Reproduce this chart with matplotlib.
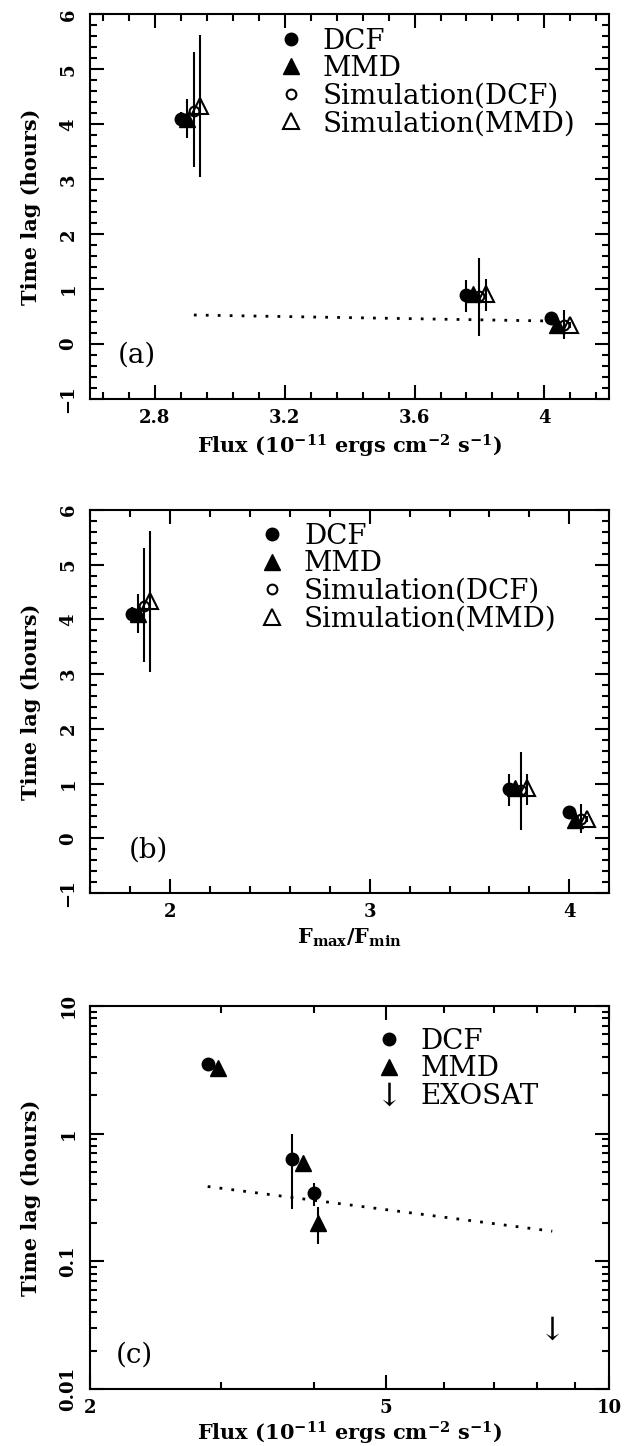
import numpy as np
import matplotlib
matplotlib.use("Agg")
import matplotlib.pyplot as plt
from matplotlib.ticker import FixedLocator, NullFormatter, FixedFormatter, MultipleLocator

plt.rcParams['font.family'] = ['DejaVu Serif']
plt.rcParams['mathtext.fontset'] = 'dejavuserif'
plt.rcParams['mathtext.default'] = 'bf'

# ---------------- data: panel (a) flux, panel (b) Fmax/Fmin ----------------
# time lags (hours) with lower / upper ends of the error bars
dcf_lag = [4.10, 0.90, 0.48]
dcf_lo = [3.98, 0.59, 0.43]
dcf_hi = [4.22, 1.17, 0.53]

mmd_lag = [4.10, 0.92, 0.34]
mmd_lo = [3.75, 0.84, 0.29]
mmd_hi = [4.47, 1.00, 0.39]

simdcf_lag = [4.25, 0.88, 0.35]
simdcf_lo = [3.22, 0.15, 0.10]
simdcf_hi = [5.31, 1.57, 0.62]

simmmd_lag = [4.33, 0.92, 0.35]
simmmd_lo = [3.04, 0.60, 0.30]
simmmd_hi = [5.62, 1.18, 0.40]

flux_dcf = [2.88, 3.76, 4.02]
flux_mmd = [2.90, 3.78, 4.04]
flux_simdcf = [2.92, 3.80, 4.06]
flux_simmmd = [2.94, 3.82, 4.08]

ratio_dcf = [1.81, 3.70, 4.00]
ratio_mmd = [1.84, 3.73, 4.03]
ratio_simdcf = [1.87, 3.76, 4.06]
ratio_simmmd = [1.90, 3.79, 4.09]

fit_a_x = [2.92, 4.03]
fit_a_y = [0.53, 0.42]

# ---------------- data: panel (c) ----------------
c_dcf_flux = [2.88, 3.74, 4.00]
c_dcf_lag = [3.48, 0.63, 0.343]
c_dcf_lo = [3.40, 0.257, 0.27]
c_dcf_hi = [3.56, 0.995, 0.41]

c_mmd_flux = [2.97, 3.87, 4.05]
c_mmd_lag = [3.24, 0.59, 0.20]
c_mmd_lo = [3.16, 0.57, 0.137]
c_mmd_hi = [3.32, 0.61, 0.265]

exosat_flux = [8.38]
exosat_lag = [0.030]

fit_c_x = [2.88, 8.38]
fit_c_y = [0.385, 0.172]

LW = 1.5
ms_dcf, ms_mmd, ms_sdcf, ms_smmd = 9, 11, 7, 12
ARROW = r'$\mathrm{\downarrow}$'


def yerr(val, lo, hi):
    val = np.array(val)
    return [val - np.array(lo), np.array(hi) - val]


def style_axes(ax):
    for s in ax.spines.values():
        s.set_linewidth(LW)
    ax.tick_params(which='both', direction='in', top=True, right=True,
                   width=LW, labelsize=13)
    ax.tick_params(which='major', length=10)
    ax.tick_params(which='minor', length=5)
    ax.tick_params(axis='y', labelrotation=90, pad=9)
    ax.tick_params(axis='x', pad=7)
    for lab in ax.get_xticklabels() + ax.get_yticklabels():
        lab.set_fontweight('bold')
    for lab in ax.get_yticklabels():
        lab.set_va('center')


def four_series(ax, xd, xm, xsd, xsm):
    h = []
    h.append(ax.errorbar(xd, dcf_lag, yerr=yerr(dcf_lag, dcf_lo, dcf_hi), fmt='o', color='black',
                         ms=ms_dcf, elinewidth=LW, capsize=0))
    h.append(ax.errorbar(xm, mmd_lag, yerr=yerr(mmd_lag, mmd_lo, mmd_hi), fmt='^', color='black',
                         ms=ms_mmd, elinewidth=LW, capsize=0))
    h.append(ax.errorbar(xsd, simdcf_lag, yerr=yerr(simdcf_lag, simdcf_lo, simdcf_hi), fmt='o',
                         color='black', mfc='none', mew=LW, ms=ms_sdcf, elinewidth=LW, capsize=0))
    h.append(ax.errorbar(xsm, simmmd_lag, yerr=yerr(simmmd_lag, simmmd_lo, simmmd_hi), fmt='^',
                         color='black', mfc='none', mew=LW, ms=ms_smmd, elinewidth=LW, capsize=0))
    return [c.lines[0] for c in h]


def add_legend(ax, handles, labels, x0, y0):
    ax.legend(handles, labels, loc='upper left', bbox_to_anchor=(x0, y0), frameon=False,
              fontsize=20, handlelength=1.0, handletextpad=0.65, labelspacing=0.02,
              borderpad=0, borderaxespad=0, numpoints=1)


def ylab(ax):
    ax.set_ylabel('Time lag (hours)', fontsize=15, fontweight='bold', labelpad=13)


fig = plt.figure(figsize=(6.34, 14.46), dpi=100)
ax1 = fig.add_axes([0.142, 0.724, 0.819, 0.266])
ax2 = fig.add_axes([0.142, 0.3824, 0.819, 0.265])
ax3 = fig.add_axes([0.142, 0.0394, 0.819, 0.265])

labels4 = ['DCF', 'MMD', 'Simulation(DCF)', 'Simulation(MMD)']
flux_label = r'Flux (10$^{-11}$ ergs cm$^{-2}$ s$^{-1}$)'

# ---- (a) ----
hs = four_series(ax1, flux_dcf, flux_mmd, flux_simdcf, flux_simmmd)
ax1.plot(fit_a_x, fit_a_y, color='black', lw=2, linestyle=(0, (1, 3.3)))
ax1.set_xlim(2.6, 4.2)
ax1.set_ylim(-1, 6)
ax1.xaxis.set_major_locator(FixedLocator([2.8, 3.2, 3.6, 4.0]))
ax1.xaxis.set_major_formatter(FixedFormatter(['2.8', '3.2', '3.6', '4']))
ax1.xaxis.set_minor_locator(MultipleLocator(0.08))
ax1.yaxis.set_major_locator(MultipleLocator(1))
ax1.yaxis.set_minor_locator(MultipleLocator(0.2))
ax1.set_xlabel(flux_label, fontsize=15, fontweight='bold', labelpad=4)
ylab(ax1)
ax1.text(0.054, 0.114, '(a)', transform=ax1.transAxes, fontsize=20, va='center')
add_legend(ax1, hs, labels4, 0.36, 0.966)
style_axes(ax1)

# ---- (b) ----
hs = four_series(ax2, ratio_dcf, ratio_mmd, ratio_simdcf, ratio_simmmd)
ax2.set_xlim(1.6, 4.2)
ax2.set_ylim(-1, 6)
ax2.xaxis.set_major_locator(MultipleLocator(1))
ax2.xaxis.set_minor_locator(MultipleLocator(0.2))
ax2.yaxis.set_major_locator(MultipleLocator(1))
ax2.yaxis.set_minor_locator(MultipleLocator(0.2))
ax2.set_xlabel(r'F$_{max}$/F$_{min}$', fontsize=15, fontweight='bold', labelpad=4)
ylab(ax2)
ax2.text(0.075, 0.112, '(b)', transform=ax2.transAxes, fontsize=20, va='center')
add_legend(ax2, hs, labels4, 0.324, 0.966)
style_axes(ax2)

# ---- (c) ----
e1 = ax3.errorbar(c_dcf_flux, c_dcf_lag, yerr=yerr(c_dcf_lag, c_dcf_lo, c_dcf_hi), fmt='o',
                  color='black', ms=ms_dcf, elinewidth=LW, capsize=0)
e2 = ax3.errorbar(c_mmd_flux, c_mmd_lag, yerr=yerr(c_mmd_lag, c_mmd_lo, c_mmd_hi), fmt='^',
                  color='black', ms=ms_mmd, elinewidth=LW, capsize=0)
e3, = ax3.plot(exosat_flux, exosat_lag, linestyle='none', marker=ARROW, color='black',
               ms=17, mew=0)
ax3.plot(fit_c_x, fit_c_y, color='black', lw=2, linestyle=(0, (1, 3.3)))
ax3.set_xscale('log')
ax3.set_yscale('log')
ax3.set_xlim(2, 10)
ax3.set_ylim(0.01, 10)
ax3.xaxis.set_major_locator(FixedLocator([2, 5, 10]))
ax3.xaxis.set_major_formatter(FixedFormatter(['2', '5', '10']))
ax3.xaxis.set_minor_locator(FixedLocator([3, 4, 6, 7, 8, 9]))
ax3.xaxis.set_minor_formatter(NullFormatter())
ax3.yaxis.set_major_locator(FixedLocator([0.01, 0.1, 1, 10]))
ax3.yaxis.set_major_formatter(FixedFormatter(['0.01', '0.1', '1', '10']))
ax3.yaxis.set_minor_locator(FixedLocator([m * d for d in [0.01, 0.1, 1] for m in range(2, 10)]))
ax3.yaxis.set_minor_formatter(NullFormatter())
ax3.set_xlabel(flux_label, fontsize=15, fontweight='bold', labelpad=2)
ylab(ax3)
ax3.text(0.05, 0.089, '(c)', transform=ax3.transAxes, fontsize=20, va='center')
add_legend(ax3, [e1.lines[0], e2.lines[0], e3], ['DCF', 'MMD', 'EXOSAT'], 0.549, 0.943)
style_axes(ax3)

fig.savefig('out.png', dpi=100)
